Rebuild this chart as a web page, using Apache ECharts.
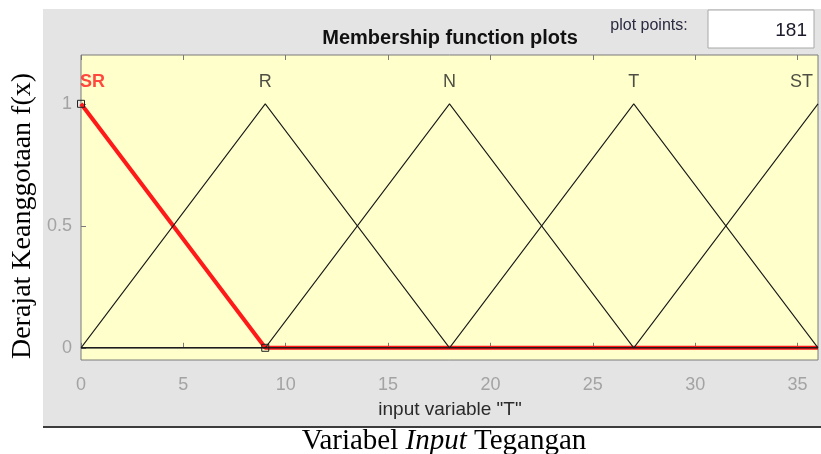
<!DOCTYPE html>
<html>
<head>
<meta charset="utf-8">
<script src="https://cdn.jsdelivr.net/npm/echarts@6/dist/echarts.min.js"></script>
<style>
  html, body { margin: 0; padding: 0; background: #ffffff; }
  #chart { width: 821px; height: 454px; }
</style>
</head>
<body>
<div id="chart"></div>
<script>
// Membership functions of input variable "T" (triangular, universe 0..36)
const mfNames = ['SR', 'R', 'N', 'T', 'ST'];
const mfSR = [[0, 1], [9, 0], [36, 0]];
const mfR  = [[0, 0], [9, 1], [18, 0], [36, 0]];
const mfN  = [[0, 0], [9, 0], [18, 1], [27, 0], [36, 0]];
const mfT  = [[0, 0], [18, 0], [27, 1], [36, 0]];
const mfST = [[0, 0], [27, 0], [36, 1]];
// label anchors: peak positions of each function
const labelX = [0, 9, 18, 27, 36];
const labelY = 1.09;
const xTicks = [0, 5, 10, 15, 20, 25, 30, 35];
const yTicks = [0, 0.5, 1];
const plotPoints = '181';

const chart = echarts.init(document.getElementById('chart'));

const blackLine = (name, data) => ({
  name, type: 'line', data, z: 4,
  symbol: 'none', animation: false,
  lineStyle: { color: '#1a1a1a', width: 1.1 }
});

const labelAlign = ['left', 'center', 'center', 'center', 'right'];

chart.setOption({
  animation: false,
  grid: {
    left: 81, top: 55, width: 737, height: 305,
    show: true, backgroundColor: '#ffffcc', borderColor: '#7a7a7a', borderWidth: 1
  },
  xAxis: [{
    type: 'value', min: 0, max: 36, interval: 5,
    axisLine: { show: false },
    axisTick: { inside: true, length: 5, lineStyle: { color: '#7a7a7a' }, customValues: xTicks },
    axisLabel: { color: '#a3a3a3', fontSize: 18, fontFamily: 'Liberation Sans', margin: 16,
      customValues: xTicks },
    splitLine: { show: false }
  }, {
    type: 'value', min: 0, max: 36, interval: 5, position: 'top',
    axisLine: { show: false },
    axisTick: { inside: true, length: 5, lineStyle: { color: '#7a7a7a' }, customValues: xTicks },
    axisLabel: { show: false },
    splitLine: { show: false }
  }],
  yAxis: {
    type: 'value', min: -0.05, max: 1.2,
    axisLine: { show: false },
    axisTick: { inside: true, length: 5, lineStyle: { color: '#7a7a7a' }, customValues: yTicks },
    axisLabel: { color: '#a3a3a3', fontSize: 18, fontFamily: 'Liberation Sans', margin: 9,
      customValues: yTicks },
    splitLine: { show: false }
  },
  series: [
    {
      name: 'SR', type: 'line', z: 3,
      data: mfSR.map((p, i) => i < 2 ? { value: p } : { value: p, symbol: 'none' }),
      symbol: 'rect', symbolSize: 7, showSymbol: true,
      itemStyle: { color: 'rgba(0,0,0,0)', borderColor: '#222', borderWidth: 1 },
      lineStyle: { color: '#ff1a1a', width: 4 }
    },
    blackLine('R', mfR),
    blackLine('N', mfN),
    blackLine('T', mfT),
    blackLine('ST', mfST),
    {
      name: 'labels', type: 'scatter', z: 6, symbolSize: 0, silent: true,
      data: mfNames.map((n, i) => ({
        value: [labelX[i], labelY], name: n,
        label: {
          show: true, position: 'inside', formatter: '{b}',
          align: labelAlign[i], offset: [i === 0 ? -1 : (i === 4 ? -5 : 0), 0],
          color: i === 0 ? '#ff1a1a' : '#222222',
          fontWeight: i === 0 ? 'bold' : 'normal',
          fontSize: 18, fontFamily: 'Liberation Sans'
        }
      }))
    }
  ],
  graphic: [
    // grey figure panel
    { type: 'rect', z: -10, shape: { x: 43, y: 9, width: 778, height: 418 },
      style: { fill: '#e4e4e4' } },
    { type: 'rect', z: -9, shape: { x: 43, y: 426, width: 778, height: 2 },
      style: { fill: '#3c3c3c' } },
    { type: 'text', x: 450, y: 38, z: 10,
      style: { text: 'Membership function plots', fontSize: 20, fontWeight: 'bold',
        fontFamily: 'Liberation Sans', fill: '#111', align: 'center', verticalAlign: 'middle' } },
    { type: 'text', x: 649, y: 26, z: 10,
      style: { text: 'plot points:', fontSize: 16, fontFamily: 'Liberation Sans',
        fill: '#2a2a40', align: 'center', verticalAlign: 'middle' } },
    { type: 'rect', z: 10, shape: { x: 708, y: 10, width: 106, height: 38 },
      style: { fill: '#ffffff', stroke: '#a8a8a8', lineWidth: 1 } },
    { type: 'text', x: 807, y: 31, z: 11,
      style: { text: plotPoints, fontSize: 19, fontFamily: 'Liberation Sans',
        fill: '#1a1a2a', align: 'right', verticalAlign: 'middle' } },
    { type: 'text', x: 450, y: 410, z: 10,
      style: { text: 'input variable "T"', fontSize: 19, fontFamily: 'Liberation Sans',
        fill: '#2a2a2a', align: 'center', verticalAlign: 'middle' } },
    // outer captions
    { type: 'text', x: 23, y: 216, rotation: Math.PI / 2, z: 10,
      style: { text: 'Derajat Keanggotaan f(x)', fontSize: 28, fontFamily: 'Liberation Serif',
        fill: '#000', align: 'center', verticalAlign: 'middle' } },
    { type: 'text', x: 444, y: 441, z: 10,
      style: { rich: {
          a: { fontSize: 29, fontFamily: 'Liberation Serif', fill: '#000' },
          i: { fontSize: 29, fontFamily: 'Liberation Serif', fontStyle: 'italic', fill: '#000' }
        },
        text: '{a|Variabel }{i|Input}{a| Tegangan}', align: 'center', verticalAlign: 'middle' } }
  ]
});
</script>
</body>
</html>
